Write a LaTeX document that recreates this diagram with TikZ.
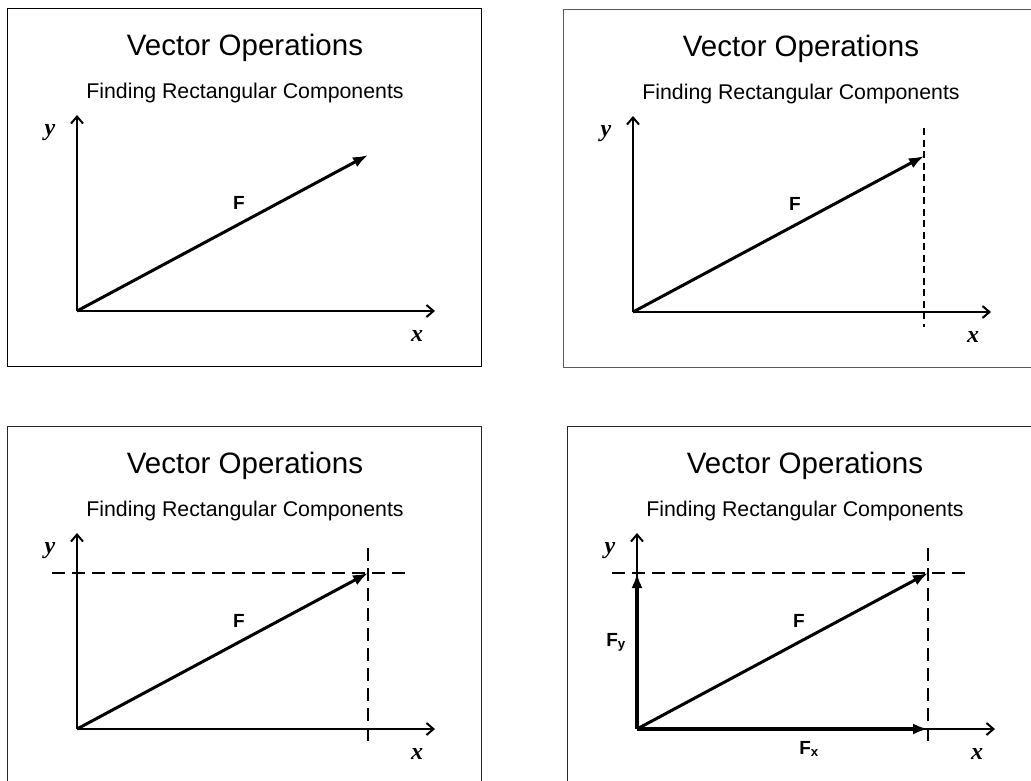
\documentclass[tikz,border=0pt]{standalone}
\usepackage{fontspec}
\setmainfont{Liberation Sans}
\newfontfamily\timesfont{Liberation Serif}
\usetikzlibrary{arrows.meta}
\tikzset{
  frame/.style={draw=#1, line width=1pt},
  ttl/.style={anchor=base, font=\fontsize{29.5}{34}\selectfont, inner sep=0pt},
  subttl/.style={anchor=base, font=\fontsize{21.3}{25}\selectfont, inner sep=0pt},
  axis/.style={line width=2pt, -{Straight Barb[length=7pt,width=12pt]}},
  vec/.style={line width=3pt, -{Latex[length=15pt,width=11pt]}},
  comp/.style={line width=3.5pt, -{Latex[length=15pt,width=11pt]}},
  axlabel/.style={font=\timesfont\bfseries\itshape\fontsize{24}{28}\selectfont, inner sep=0pt},
  vlabel/.style={font=\bfseries\fontsize{19}{22}\selectfont, inner sep=0pt},
  projA/.style={line width=1.8pt, dash pattern=on 7pt off 4.5pt},
  projB/.style={line width=2.4pt, dash pattern=on 13pt off 7pt},
}
\newcommand\basepanel[2]{%
  \draw[frame=#2] (0,0) rectangle (474,358);
  \node[ttl] (title#1) at (238,47) {Vector Operations};
  \node[subttl] (sub#1) at (238,90) {Finding Rectangular Components};
  \coordinate (O#1) at (70,303);
  \coordinate (Y#1) at (70,107);
  \coordinate (X#1) at (428,303);
  \coordinate (T#1) at (361,147);
  \draw[axis] (O#1) -- (Y#1);
  \draw[axis] (O#1) -- (X#1);
  \draw[vec] (O#1) -- (T#1);
  \node[vlabel] (F#1) at (232,195) {F};
  \node[axlabel] (y#1) at (43,125) {y};
  \node[axlabel] (x#1) at (410,328) {x};
}
\begin{document}
\begin{tikzpicture}[x=1pt,y=-1pt]
\useasboundingbox (0,0) rectangle (1031,780);
\clip (0,0) rectangle (1031,780);
% panel 1
\begin{scope}[shift={(7,8)}]
  \basepanel{a}{black}
\end{scope}
% panel 2
\begin{scope}[shift={(563,9)}]
  \basepanel{b}{black!65}
  \coordinate (VAb) at (361,119);
  \coordinate (VBb) at (361,318);
  \draw[projA] (VAb) -- (VBb);
\end{scope}
% panel 3
\begin{scope}[shift={(7,426)}]
  \basepanel{c}{black!85}
  \coordinate (HAc) at (45,147);
  \coordinate (HBc) at (403,147);
  \coordinate (VAc) at (361,122);
  \coordinate (VBc) at (361,317);
  \draw[projB] (HAc) -- (HBc);
  \draw[projB] (VAc) -- (VBc);
\end{scope}
% panel 4
\begin{scope}[shift={(567,426)}]
  \basepanel{d}{black!85}
  \coordinate (HAd) at (45,147);
  \coordinate (HBd) at (403,147);
  \coordinate (VAd) at (361,122);
  \coordinate (VBd) at (361,317);
  \draw[projB] (HAd) -- (HBd);
  \draw[projB] (VAd) -- (VBd);
  \coordinate (Pd) at (70,147);
  \coordinate (Qd) at (361,303);
  \draw[comp] (Od) -- (Pd);
  \draw[comp] (Od) -- (Qd);
  \node[vlabel, anchor=base] (Fy) at (49,220) {F\textsubscript{y}};
  \node[vlabel, anchor=base] (Fx) at (242,328) {F\textsubscript{x}};
\end{scope}
\end{tikzpicture}
\end{document}
